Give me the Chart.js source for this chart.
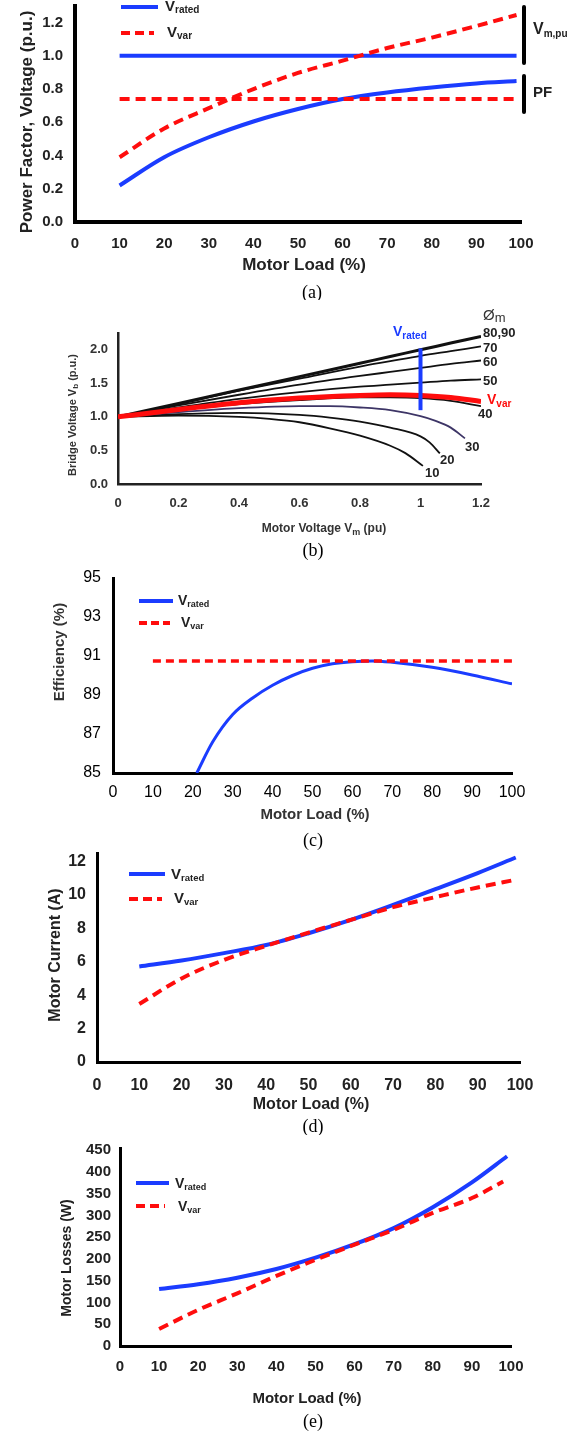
<!DOCTYPE html>
<html>
<head>
<meta charset="utf-8">
<script src="https://cdn.jsdelivr.net/npm/chart.js@4.4.1/dist/chart.umd.min.js"></script>
<style>
  html, body { margin: 0; padding: 0; background: #fff; }
  body { width: 583px; height: 1433px; position: relative; overflow: hidden; }
  canvas { position: absolute; left: 0; }
</style>
</head>
<body>
<canvas id="ca" style="top:0px"></canvas>
<canvas id="cb" style="top:300px"></canvas>
<canvas id="cc" style="top:562px"></canvas>
<canvas id="cd" style="top:850px"></canvas>
<canvas id="ce" style="top:1135px"></canvas>
<script>
// (a) power factor and motor voltage vs load
const loadA = [10, 20, 30, 40, 50, 60, 70, 80, 90, 99]
const vmRatedA = [1, 1, 1, 1, 1, 1, 1, 1, 1, 1]
const vmVarA = [0.39, 0.563, 0.685, 0.80, 0.897, 0.971, 1.047, 1.11, 1.18, 1.246]
const pfRatedA = [0.22, 0.39, 0.51, 0.605, 0.68, 0.74, 0.78, 0.81, 0.834, 0.848]
const pfVarA = [0.74, 0.74, 0.74, 0.74, 0.74, 0.74, 0.74, 0.74, 0.74, 0.74]
const xTicksA = [0, 10, 20, 30, 40, 50, 60, 70, 80, 90, 100]
const yTicksA = [0, 0.2, 0.4, 0.6, 0.8, 1.0, 1.2]
const yLabelsA = ['0.0', '0.2', '0.4', '0.6', '0.8', '1.0', '1.2']

// (b) bridge voltage vs motor voltage, one curve per angle
const vmB = [0, 0.2, 0.4, 0.6, 0.8, 0.9, 1.0, 1.1, 1.2]
const vb8090 = [1.0, 1.2, 1.4, 1.6, 1.8, 1.9, 2.0, 2.1, 2.2]
const vb70 = [1.0, 1.19, 1.39, 1.57, 1.75, 1.83, 1.91, 1.98, 2.05]
const vb60 = [1.0, 1.17, 1.33, 1.48, 1.61, 1.67, 1.73, 1.79, 1.84]
const vb50 = [1.0, 1.14, 1.27, 1.37, 1.45, 1.48, 1.51, 1.54, 1.56]
const vbVar = [1.0, 1.11, 1.21, 1.28, 1.32, 1.33, 1.32, 1.29, 1.23]
const vb40 = [1.0, 1.10, 1.19, 1.25, 1.29, 1.29, 1.28, 1.24, 1.16]
const vm30 = [0, 0.2, 0.4, 0.6, 0.7, 0.8, 0.9, 1.0, 1.05, 1.1, 1.147]
const vb30 = [1.0, 1.07, 1.13, 1.16, 1.16, 1.14, 1.10, 1.01, 0.94, 0.84, 0.68]
const vm20 = [0, 0.2, 0.4, 0.6, 0.7, 0.8, 0.9, 1.0, 1.03, 1.064]
const vb20 = [1.0, 1.04, 1.06, 1.03, 0.99, 0.93, 0.84, 0.71, 0.62, 0.455]
const vm10 = [0, 0.2, 0.4, 0.5, 0.6, 0.7, 0.8, 0.9, 0.95, 1.008]
const vb10 = [1.0, 1.02, 1.0, 0.97, 0.92, 0.83, 0.72, 0.57, 0.46, 0.27]
const vmRatedB = [1, 1]
const vbRatedB = [1.1, 2.02]
const xTicksB = [0, 0.2, 0.4, 0.6, 0.8, 1, 1.2]
const xLabelsB = ['0', '0.2', '0.4', '0.6', '0.8', '1', '1.2']
const yTicksB = [0, 0.5, 1.0, 1.5, 2.0]
const yLabelsB = ['0.0', '0.5', '1.0', '1.5', '2.0']

// (c) efficiency
const loadRatedC = [21, 25, 30, 35, 40, 45, 50, 55, 60, 65, 70, 80, 90, 100]
const effRatedC = [85.0, 86.6, 88.0, 88.85, 89.5, 90.0, 90.37, 90.6, 90.71, 90.75, 90.68, 90.42, 90.03, 89.57]
const loadVarC = [10, 100]
const effVarC = [90.75, 90.75]
const xTicksC = [0, 10, 20, 30, 40, 50, 60, 70, 80, 90, 100]
const yTicksC = [85, 87, 89, 91, 93, 95]

// (d) motor current
const loadD = [10, 20, 30, 40, 50, 60, 70, 80, 90, 99]
const curRatedD = [5.71, 6.07, 6.51, 7.0, 7.7, 8.5, 9.4, 10.34, 11.3, 12.23]
const curVarD = [3.47, 5.0, 6.1, 6.95, 7.74, 8.5, 9.26, 9.86, 10.44, 10.9]
const yTicksD = [0, 2, 4, 6, 8, 10, 12]

// (e) motor losses
const loadRatedE = [10, 20, 30, 40, 50, 60, 70, 80, 90, 99]
const lossRatedE = [131, 142, 157, 177, 203, 234, 271, 319, 376, 436]
const loadVarE = [10, 20, 30, 40, 50, 60, 70, 80, 90, 98]
const lossVarE = [39, 83, 121, 161, 198, 233, 267, 306, 340, 378]
const yTicksE = [0, 50, 100, 150, 200, 250, 300, 350, 400, 450]

const SANS = "'Liberation Sans', Arial, sans-serif"
const SERIF = "'Liberation Serif', 'Times New Roman', serif"
const BLUE = '#1b3cff'
const RED = '#ff0d0d'

const pts = (xs, ys) => xs.map((x, i) => ({ x, y: ys[i] }))

// draws a run of text pieces (for subscripts), optionally rotated
function rich(ctx, x, y, parts, o = {}) {
  ctx.save()
  ctx.translate(x, y)
  if (o.rot) ctx.rotate(o.rot)
  ctx.fillStyle = o.color || '#222'
  ctx.textBaseline = o.baseline || 'alphabetic'
  ctx.textAlign = 'left'
  const fnt = p => (p.w || 'bold') + ' ' + p.s + 'px ' + (p.f || SANS)
  let w = 0
  parts.forEach(p => { ctx.font = fnt(p); w += ctx.measureText(p.t).width })
  let cx = o.align === 'center' ? -w / 2 : 0
  parts.forEach(p => {
    ctx.font = fnt(p)
    ctx.fillText(p.t, cx, p.dy || 0)
    cx += ctx.measureText(p.t).width
  })
  ctx.restore()
}

function seg(ctx, x1, y1, x2, y2, color, width, dash, cap) {
  ctx.save()
  ctx.strokeStyle = color
  ctx.lineWidth = width
  ctx.lineCap = cap || 'butt'
  ctx.setLineDash(dash || [])
  ctx.beginPath()
  ctx.moveTo(x1, y1)
  ctx.lineTo(x2, y2)
  ctx.stroke()
  ctx.restore()
}

function line(data, color, width, dash) {
  return {
    data, borderColor: color, borderWidth: width, borderDash: dash || [],
    pointRadius: 0, fill: false, cubicInterpolationMode: 'monotone', tension: 0.4
  }
}

function makePanel(id, top, height, area, o) {
  const cv = document.getElementById(id)
  cv.width = 583
  cv.height = height
  const yW = 50, xH = 40
  const tickFont = o.tickFont
  return new Chart(cv, {
    type: 'line',
    data: { datasets: o.datasets },
    options: {
      responsive: false,
      animation: false,
      events: [],
      layout: {
        padding: {
          left: area.left - yW,
          right: 583 - area.right,
          top: area.top - top,
          bottom: top + height - area.bottom - xH
        }
      },
      plugins: { legend: { display: false }, tooltip: { enabled: false } },
      scales: {
        x: {
          type: 'linear', min: o.xMin, max: o.xMax,
          afterFit: s => { s.height = xH; s.paddingLeft = 0; s.paddingRight = 0 },
          afterBuildTicks: s => { s.ticks = o.xTicks.map(v => ({ value: v })) },
          grid: { display: false, drawTicks: false },
          border: { display: true, color: o.axisColor || '#000', width: o.axisWidth },
          ticks: {
            autoSkip: false, maxRotation: 0, padding: o.xPad, color: o.tickColor || '#222',
            font: tickFont,
            callback: (v, i) => o.xLabels ? o.xLabels[i] : String(o.xTicks[i])
          }
        },
        y: {
          type: 'linear', min: o.yMin, max: o.yMax,
          afterFit: s => { s.width = yW; s.paddingTop = 0; s.paddingBottom = 0 },
          afterBuildTicks: s => { s.ticks = o.yTicks.map(v => ({ value: v })) },
          grid: { display: false, drawTicks: false },
          border: { display: true, color: o.axisColor || '#000', width: o.axisWidth },
          ticks: {
            autoSkip: false, padding: o.yPad, color: o.tickColor || '#222',
            font: tickFont,
            callback: (v, i) => o.yLabels ? o.yLabels[i] : String(o.yTicks[i])
          }
        }
      }
    },
    plugins: [{ id: 'decor', afterDraw: c => o.decor(c.ctx, c, top) }]
  })
}

// ---- (a)
makePanel('ca', 0, 300, { left: 75, right: 521, top: 6, bottom: 222 }, {
  xMin: 0, xMax: 100, yMin: 0, yMax: 1.3,
  xTicks: xTicksA, yTicks: yTicksA, yLabels: yLabelsA,
  tickFont: { family: SANS, size: 15, weight: 'bold' },
  axisWidth: 4, xPad: 13, yPad: 12,
  datasets: [
    line(pts(loadA, vmVarA), RED, 4, [10, 6]),
    line(pts(loadA, pfVarA), RED, 4, [10, 6]),
    line(pts(loadA, vmRatedA), BLUE, 4),
    line(pts(loadA, pfRatedA), BLUE, 4)
  ],
  decor: (ctx, c, top) => {
    seg(ctx, 121, 7, 158, 7, BLUE, 4)
    rich(ctx, 165, 11, [{ t: 'V', s: 15 }, { t: 'rated', s: 10, dy: 2 }])
    seg(ctx, 121, 33, 154, 33, RED, 4, [9, 5])
    rich(ctx, 167, 37, [{ t: 'V', s: 15 }, { t: 'var', s: 10, dy: 2 }])
    seg(ctx, 524, 7, 524, 63, '#000', 4, null, 'round')
    seg(ctx, 524, 76, 524, 112, '#000', 4, null, 'round')
    rich(ctx, 533, 34, [{ t: 'V', s: 16 }, { t: 'm,pu', s: 10, dy: 3 }])
    rich(ctx, 533, 97, [{ t: 'PF', s: 15 }])
    rich(ctx, 27, 122, [{ t: 'Power Factor, Voltage (p.u.)', s: 17 }], { align: 'center', rot: -Math.PI / 2, baseline: 'middle' })
    rich(ctx, 304, 270, [{ t: 'Motor Load (%)', s: 17 }], { align: 'center' })
    rich(ctx, 312, 298, [{ t: '(a)', s: 18, w: 'normal', f: SERIF }], { align: 'center', color: '#000' })
  }
})

// ---- (b)
makePanel('cb', 300, 262, { left: 118, right: 481, top: 333, bottom: 484 }, {
  xMin: 0, xMax: 1.2, yMin: 0, yMax: 2.25,
  xTicks: xTicksB, xLabels: xLabelsB, yTicks: yTicksB, yLabels: yLabelsB,
  tickFont: { family: SANS, size: 13, weight: 'bold' }, tickColor: '#333',
  axisWidth: 2.5, axisColor: '#222', xPad: 12, yPad: 10,
  datasets: [
    line(pts(vmRatedB, vbRatedB), BLUE, 4),
    line(pts(vmB, vbVar), RED, 5),
    line(pts(vmB, vb40), '#111', 1.8),
    line(pts(vm30, vb30), '#3d3566', 1.8),
    line(pts(vm20, vb20), '#111', 1.8),
    line(pts(vm10, vb10), '#111', 1.8),
    line(pts(vmB, vb50), '#111', 1.8),
    line(pts(vmB, vb60), '#111', 1.8),
    line(pts(vmB, vb70), '#111', 1.8),
    line(pts(vmB, vb8090), '#111', 3)
  ],
  decor: (ctx, c, top) => {
    const t = y => y - top
    const lab = (s, x, y) => rich(ctx, x, t(y), [{ t: s, s: 13 }], { baseline: 'middle' })
    lab('80,90', 483, 333)
    lab('70', 483, 348)
    lab('60', 483, 362)
    lab('50', 483, 381)
    lab('40', 478, 414)
    lab('30', 465, 447)
    lab('20', 440, 460)
    lab('10', 425, 473)
    rich(ctx, 487, t(404), [{ t: 'V', s: 14 }, { t: 'var', s: 10, dy: 3 }], { color: RED })
    rich(ctx, 393, t(336), [{ t: 'V', s: 14 }, { t: 'rated', s: 10, dy: 3 }], { color: BLUE })
    rich(ctx, 483, t(320), [{ t: 'Ø', s: 15, w: 'normal' }, { t: 'm', s: 13, w: 'normal', dy: 2 }], { color: '#333' })
    rich(ctx, 73, t(415), [{ t: 'Bridge Voltage V', s: 11 }, { t: 'b', s: 8, dy: 3 }, { t: ' (p.u.)', s: 11 }],
      { align: 'center', rot: -Math.PI / 2, baseline: 'middle', color: '#333' })
    rich(ctx, 324, t(532), [{ t: 'Motor Voltage V', s: 12 }, { t: 'm', s: 9, dy: 3 }, { t: ' (pu)', s: 12 }],
      { align: 'center', color: '#333' })
    rich(ctx, 313, t(556), [{ t: '(b)', s: 18, w: 'normal', f: SERIF }], { align: 'center', color: '#000' })
  }
})

// ---- (c)
makePanel('cc', 562, 288, { left: 113, right: 512, top: 578, bottom: 773 }, {
  xMin: 0, xMax: 100, yMin: 85, yMax: 95,
  xTicks: xTicksC, yTicks: yTicksC,
  tickFont: { family: SANS, size: 16, weight: 'normal' }, tickColor: '#000',
  axisWidth: 3, xPad: 10, yPad: 12,
  datasets: [
    line(pts(loadVarC, effVarC), RED, 3.5, [8, 5]),
    line(pts(loadRatedC, effRatedC), BLUE, 3)
  ],
  decor: (ctx, c, top) => {
    const t = y => y - top
    seg(ctx, 139, t(601), 173, t(601), BLUE, 4)
    rich(ctx, 178, t(605), [{ t: 'V', s: 14 }, { t: 'rated', s: 9, dy: 2 }])
    seg(ctx, 139, t(623), 170, t(623), RED, 4, [8, 4])
    rich(ctx, 181, t(627), [{ t: 'V', s: 14 }, { t: 'var', s: 9, dy: 2 }])
    rich(ctx, 60, t(652), [{ t: 'Efficiency (%)', s: 15 }], { align: 'center', rot: -Math.PI / 2, baseline: 'middle', color: '#333' })
    rich(ctx, 315, t(819), [{ t: 'Motor Load (%)', s: 15 }], { align: 'center', color: '#333' })
    rich(ctx, 313, t(846), [{ t: '(c)', s: 18, w: 'normal', f: SERIF }], { align: 'center', color: '#000' })
  }
})

// ---- (d)
makePanel('cd', 850, 285, { left: 97, right: 520, top: 853, bottom: 1062 }, {
  xMin: 0, xMax: 100, yMin: 0, yMax: 12.5,
  xTicks: xTicksA, yTicks: yTicksD,
  tickFont: { family: SANS, size: 16, weight: 'bold' },
  axisWidth: 3, xPad: 14, yPad: 11,
  datasets: [
    line(pts(loadD, curVarD), RED, 4, [10, 6]),
    line(pts(loadD, curRatedD), BLUE, 4)
  ],
  decor: (ctx, c, top) => {
    const t = y => y - top
    seg(ctx, 129, t(874), 165, t(874), BLUE, 4)
    rich(ctx, 171, t(879), [{ t: 'V', s: 15 }, { t: 'rated', s: 9.5, dy: 2 }])
    seg(ctx, 129, t(899), 162, t(899), RED, 4, [9, 5])
    rich(ctx, 174, t(903), [{ t: 'V', s: 15 }, { t: 'var', s: 9.5, dy: 2 }])
    rich(ctx, 56, t(955), [{ t: 'Motor Current (A)', s: 16 }], { align: 'center', rot: -Math.PI / 2, baseline: 'middle' })
    rich(ctx, 311, t(1109), [{ t: 'Motor Load (%)', s: 16 }], { align: 'center' })
    rich(ctx, 313, t(1132), [{ t: '(d)', s: 18, w: 'normal', f: SERIF }], { align: 'center', color: '#000' })
  }
})

// ---- (e)
makePanel('ce', 1135, 298, { left: 120, right: 511, top: 1148, bottom: 1346 }, {
  xMin: 0, xMax: 100, yMin: 0, yMax: 455,
  xTicks: xTicksA, yTicks: yTicksE,
  tickFont: { family: SANS, size: 15, weight: 'bold' },
  axisWidth: 3, xPad: 12, yPad: 9,
  datasets: [
    line(pts(loadVarE, lossVarE), RED, 4, [10, 6]),
    line(pts(loadRatedE, lossRatedE), BLUE, 4)
  ],
  decor: (ctx, c, top) => {
    const t = y => y - top
    seg(ctx, 136, t(1183), 169, t(1183), BLUE, 4)
    rich(ctx, 175, t(1188), [{ t: 'V', s: 14 }, { t: 'rated', s: 9, dy: 2 }])
    seg(ctx, 136, t(1206), 165, t(1206), RED, 4, [9, 5])
    rich(ctx, 178, t(1211), [{ t: 'V', s: 14 }, { t: 'var', s: 9, dy: 2 }])
    rich(ctx, 67, t(1258), [{ t: 'Motor Losses (W)', s: 14 }], { align: 'center', rot: -Math.PI / 2, baseline: 'middle' })
    rich(ctx, 307, t(1403), [{ t: 'Motor Load (%)', s: 15 }], { align: 'center' })
    rich(ctx, 313, t(1427), [{ t: '(e)', s: 18, w: 'normal', f: SERIF }], { align: 'center', color: '#000' })
  }
})
</script>
</body>
</html>
